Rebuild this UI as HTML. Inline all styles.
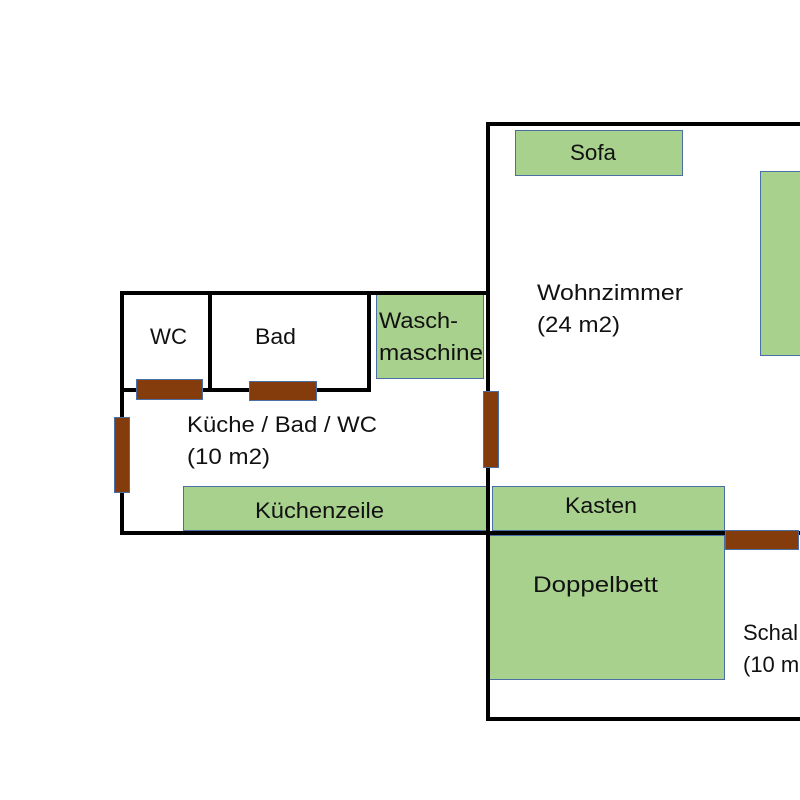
<!DOCTYPE html>
<html><head><meta charset="utf-8"><style>body{margin:0;background:#fff}svg{display:block}text{font-family:"Liberation Sans",sans-serif;font-size:22px;fill:#111}</style></head>
<body>
<svg width="800" height="800" viewBox="0 0 800 800" xmlns="http://www.w3.org/2000/svg">
<g fill="#A9D18E" stroke="#4A6FA5" stroke-width="1">
<rect x="515.5" y="130.5" width="167" height="45"/>
<rect x="760.5" y="171.5" width="45" height="184"/>
<rect x="376.5" y="294.5" width="107" height="84"/>
<rect x="183.5" y="486.5" width="304" height="44"/>
<rect x="492.5" y="486.5" width="232" height="44"/>
<rect x="489.5" y="535.5" width="235" height="144"/>
</g>
<g stroke="#000" stroke-width="4" fill="none" stroke-linecap="square">
<path d="M122 293 H488 M122 293 V533 H800 M488 124 V719 H800 M488 124 H800"/>
<path d="M210 293 V390 M369 293 V390 M122 390 H369"/>
</g>
<g fill="#843C0C" stroke="#4A6FA5" stroke-width="1">
<rect x="136.5" y="379.5" width="66" height="20"/>
<rect x="249.5" y="381.5" width="67" height="19"/>
<rect x="114.5" y="417.5" width="15" height="75"/>
<rect x="483.5" y="391.5" width="15" height="76"/>
<rect x="725.5" y="530.5" width="73" height="19"/>
</g>
<text x="570" y="160" textLength="46" lengthAdjust="spacingAndGlyphs">Sofa</text>
<text x="537" y="300" textLength="146" lengthAdjust="spacingAndGlyphs">Wohnzimmer</text>
<text x="537" y="332" textLength="83" lengthAdjust="spacingAndGlyphs">(24 m2)</text>
<text x="150" y="344" textLength="37" lengthAdjust="spacingAndGlyphs">WC</text>
<text x="255" y="344" textLength="41" lengthAdjust="spacingAndGlyphs">Bad</text>
<text x="379" y="328" textLength="79" lengthAdjust="spacingAndGlyphs">Wasch-</text>
<text x="379" y="360" textLength="104" lengthAdjust="spacingAndGlyphs">maschine</text>
<text x="187" y="432" textLength="190" lengthAdjust="spacingAndGlyphs">Küche / Bad / WC</text>
<text x="187" y="464" textLength="83" lengthAdjust="spacingAndGlyphs">(10 m2)</text>
<text x="255" y="518" textLength="129" lengthAdjust="spacingAndGlyphs">Küchenzeile</text>
<text x="565" y="513" textLength="72" lengthAdjust="spacingAndGlyphs">Kasten</text>
<text x="533" y="592" textLength="125" lengthAdjust="spacingAndGlyphs">Doppelbett</text>
<text x="743" y="640">Schal</text>
<text x="743" y="672">(10 m</text>
</svg>
</body></html>
